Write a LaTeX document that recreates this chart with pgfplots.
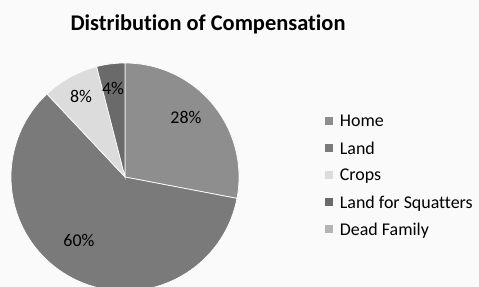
\documentclass[border=0pt]{standalone}
\usepackage{pgfplots}
\pgfplotsset{compat=1.18}
\usepackage{pgfplotstable}
\usepackage{fontspec}
\setmainfont[Ligatures={NoCommon}]{Carlito}
\definecolor{slice0}{HTML}{8E8E8E}
\definecolor{slice1}{HTML}{7A7A7A}
\definecolor{slice2}{HTML}{DCDCDC}
\definecolor{slice3}{HTML}{6A6A6A}
\definecolor{slice4}{HTML}{B4B4B4}
\pgfplotstableread{
label value
Home 28
Land 60
Crops 8
Squatters 4
Dead 0
}\piedata
\begin{document}
\begin{tikzpicture}
\useasboundingbox (0bp,0bp) rectangle (479bp,287bp);
\clip (0bp,0bp) rectangle (479bp,287bp);
\fill[white!98!black] (0bp,0bp) rectangle (479bp,287bp);
\node[font=\fontsize{22.5}{26}\selectfont\bfseries] at (208bp,263bp) {Distribution of Compensation};
\begin{axis}[at={(125bp,110bp)}, anchor=center, width=228bp, height=228bp,
  scale only axis, xmin=-1, xmax=1, ymin=-1, ymax=1, hide axis, clip=false,
  legend style={at={(axis description cs:1.375,0.504)}, anchor=west, draw=none, fill=none,
    inner sep=0pt, font=\fontsize{18}{21}\selectfont, row sep=9.5bp},
  legend cell align=left,
  legend image code/.code={\fill[#1,draw=none] (0bp,-3bp) rectangle (8bp,5bp); \path (13bp,0bp);}]
\def\cum{90}
\pgfplotsforeachungrouped \i in {0,...,3}{%
  \pgfplotstablegetelem{\i}{value}\of\piedata
  \pgfmathsetmacro\angA{\cum}%
  \pgfmathsetmacro\angB{\cum-3.6*\pgfplotsretval}%
  \xdef\cum{\angB}%
  \edef\cmd{\noexpand\addplot[fill=slice\i, draw=white, line width=0.7pt, domain=\angB:\angA, samples=80, forget plot] ({cos(x)},{sin(x)}) -- (axis cs:0,0) -- cycle;}%
  \cmd
}
\addlegendimage{fill=slice0}\addlegendentry{Home}
\addlegendimage{fill=slice1}\addlegendentry{Land}
\addlegendimage{fill=slice2}\addlegendentry{Crops}
\addlegendimage{fill=slice3}\addlegendentry{Land for Squatters}
\addlegendimage{fill=slice4}\addlegendentry{Dead Family}
\node[font=\fontsize{18}{21}\selectfont] at (axis cs:0.535,0.518) {28\%};
\node[font=\fontsize{18}{21}\selectfont] at (axis cs:-0.404,-0.557) {60\%};
\node[font=\fontsize{18}{21}\selectfont] at (axis cs:-0.386,0.706) {8\%};
\node[font=\fontsize{18}{21}\selectfont] at (axis cs:-0.105,0.776) {4\%};
\end{axis}
\end{tikzpicture}
\end{document}
